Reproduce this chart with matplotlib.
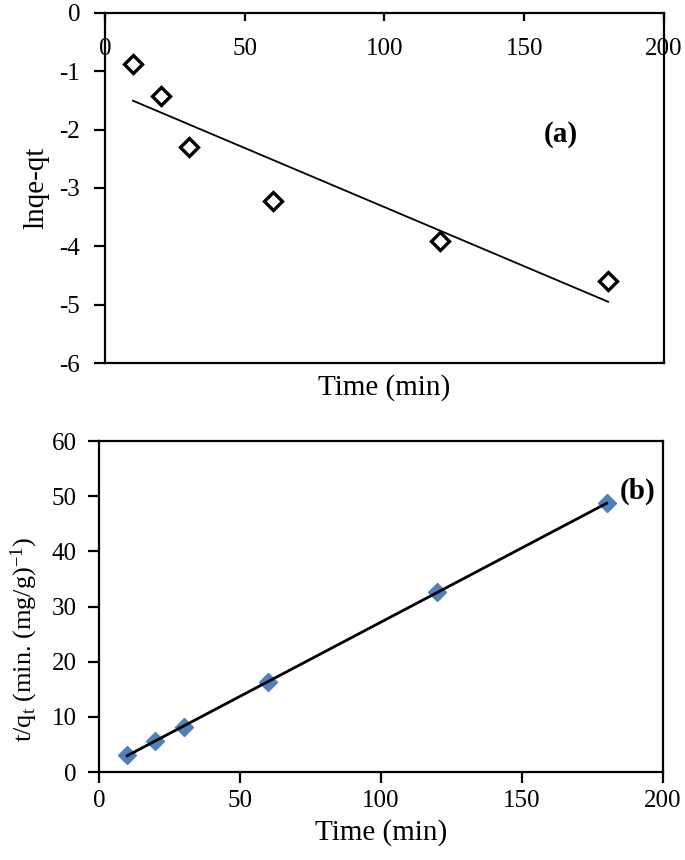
import numpy as np
import matplotlib
matplotlib.use("Agg")
import matplotlib.pyplot as plt

plt.rcParams['font.family'] = ['Liberation Serif', 'DejaVu Serif']
plt.rcParams['mathtext.fontset'] = 'custom'
plt.rcParams['mathtext.rm'] = 'Liberation Serif'
plt.rcParams['mathtext.it'] = 'Liberation Serif:italic'

# Panel (a): pseudo-first-order
time_a = [10, 20, 30, 60, 120, 180]
ln_qe_qt = [-0.87, -1.42, -2.30, -3.22, -3.91, -4.60]

# Panel (b): pseudo-second-order
time_b = [10, 20, 30, 60, 120, 180]
t_over_qt = [3.0, 5.7, 8.2, 16.4, 32.6, 48.7]

xticks = [0, 50, 100, 150, 200]
yticks_a = [0, -1, -2, -3, -4, -5, -6]
yticks_b = [0, 10, 20, 30, 40, 50, 60]

fig = plt.figure(figsize=(6.85, 8.6), dpi=100)

FS = 18
LFS = 21
SPW = 1.6

# ---------- Panel (a) ----------
ax1 = fig.add_axes([0.1533, 0.5779, 0.816, 0.407])
xa = np.array(time_a, float)
ya = np.array(ln_qe_qt, float)
m, b = np.polyfit(xa, ya, 1)
xf = np.array([xa.min(), xa.max()])
ax1.plot(xf, m * xf + b, color='black', lw=1.3, zorder=2)
ax1.plot(xa, ya, linestyle='none', marker='D', markersize=9,
         markerfacecolor='white', markeredgecolor='black', markeredgewidth=2.4, zorder=3)
ax1.set_xlim(0, 200)
ax1.set_ylim(-6, 0)
ax1.set_xticks(xticks)
ax1.set_yticks(yticks_a)
ax1.set_yticklabels([str(v) for v in yticks_a])
ax1.xaxis.set_ticks_position('top')
ax1.tick_params(axis='x', which='both', direction='in', length=6, width=SPW,
                labeltop=True, labelbottom=False, pad=-34, labelsize=FS)
ax1.tick_params(axis='y', direction='out', length=8, width=SPW, labelsize=FS, pad=10)
for s in ax1.spines.values():
    s.set_linewidth(SPW)
ax1.xaxis.set_label_position('bottom')
ax1.set_xlabel('Time (min)', fontsize=LFS, labelpad=8)
ax1.set_ylabel('lnqe-qt', fontsize=LFS, labelpad=7)
ax1.text(163, -2.09, '(a)', fontsize=LFS, fontweight='bold', ha='center', va='center')

# ---------- Panel (b) ----------
ax2 = fig.add_axes([0.1445, 0.1023, 0.8234, 0.3849])
xb = np.array(time_b, float)
yb = np.array(t_over_qt, float)
m2, b2 = np.polyfit(xb, yb, 1)
xf2 = np.array([xb.min(), xb.max()])
ax2.plot(xb, yb, linestyle='none', marker='D', markersize=9.5,
         markerfacecolor='#4F81BD', markeredgecolor='#4F81BD', zorder=2)
ax2.plot(xf2, m2 * xf2 + b2, color='black', lw=2.0, zorder=3)
ax2.set_xlim(0, 200)
ax2.set_ylim(0, 60)
ax2.set_xticks(xticks)
ax2.set_yticks(yticks_b)
ax2.tick_params(axis='x', direction='out', length=8, width=SPW, labelsize=FS, pad=5)
ax2.tick_params(axis='y', direction='out', length=8, width=SPW, labelsize=FS, pad=8)
for s in ax2.spines.values():
    s.set_linewidth(SPW)
ax2.set_xlabel('Time (min)', fontsize=LFS, labelpad=5)
ax2.set_ylabel(r't/q$_\mathrm{t}$ (min. (mg/g)$^\mathrm{-1}$)', fontsize=19)
ax2.yaxis.set_label_coords(-0.105, 0.40)
ax2.text(191, 50.8, '(b)', fontsize=LFS, fontweight='bold', ha='center', va='center')

fig.savefig('out.png', dpi=100)
